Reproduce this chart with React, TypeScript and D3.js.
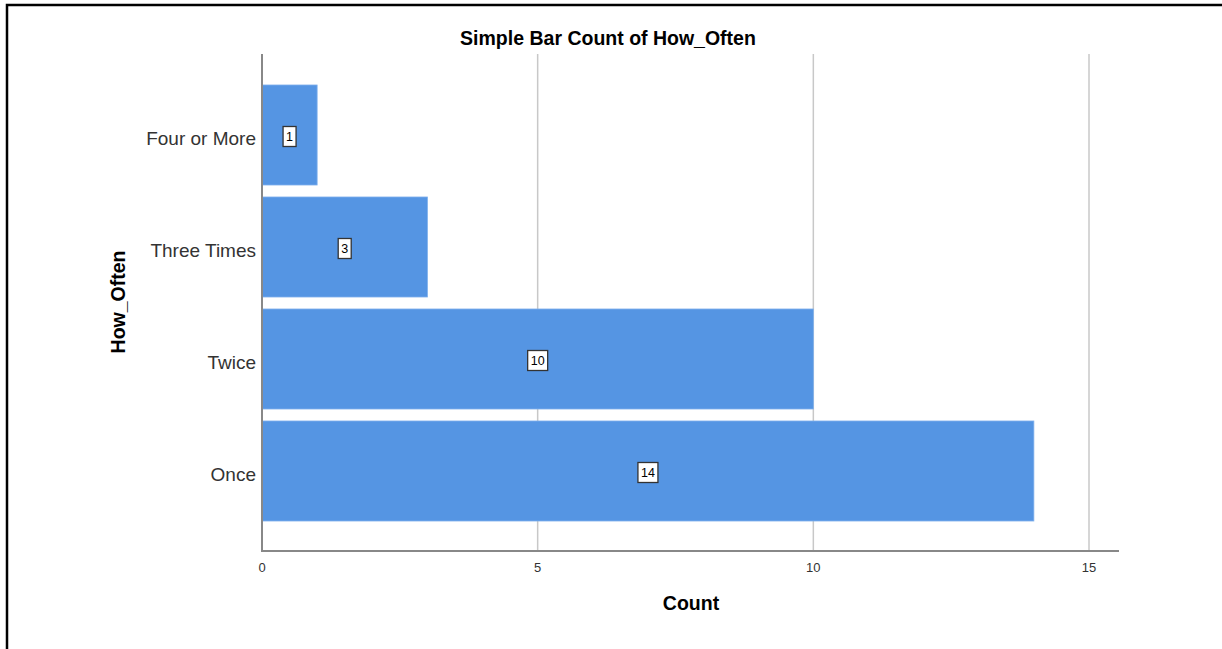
import { useMemo } from 'react'
import * as d3 from 'd3'

const categories = ['Four or More', 'Three Times', 'Twice', 'Once']
const counts = [1, 3, 10, 14]
const xTicks = [0, 5, 10, 15]

const width = 1222
const height = 649
const barColor = '#5595e3'
const font = 'Arial, "Liberation Sans", sans-serif'

export default function App() {
  const x = useMemo(() => d3.scaleLinear().domain([0, 15]).range([262, 1089]), [])
  const y = useMemo(
    () =>
      d3
        .scaleBand<string>()
        .domain(categories)
        .range([79, 527])
        .paddingInner(0.107)
        .paddingOuter(0.0535),
    [],
  )

  const axisTop = 54
  const axisBottom = 551
  const axisRight = 1119

  return (
    <svg
      width={width}
      height={height}
      style={{ position: 'absolute', left: 0, top: 0, background: '#fff' }}
    >
      {/* frame */}
      <rect x={7} y={5} width={width} height={height} fill="none" stroke="#000" strokeWidth={2.5} />

      <text x={608} y={45} textAnchor="middle" fontFamily={font} fontWeight="bold" fontSize={19.5} fill="#000">
        Simple Bar Count of How_Often
      </text>

      {/* grid */}
      {xTicks.slice(1).map((t) => (
        <line key={t} x1={x(t)} x2={x(t)} y1={axisTop} y2={axisBottom} stroke="#c8c8c8" strokeWidth={1.5} />
      ))}

      {/* bars */}
      {categories.map((c, i) => {
        const y0 = y(c) ?? 0
        const bw = y.bandwidth()
        const cx = x(counts[i] / 2)
        const cy = y0 + bw / 2
        const label = String(counts[i])
        const boxW = label.length * 7 + 6
        return (
          <g key={c}>
            <rect x={x(0)} y={y0} width={x(counts[i]) - x(0)} height={bw} fill={barColor} stroke="#7fb0ec" strokeWidth={0.8} />
            <rect x={cx - boxW / 2} y={cy - 8.5} width={boxW} height={20} fill="#fff" stroke="#333" strokeWidth={1.3} />
            <text x={cx} y={cy + 6} textAnchor="middle" fontFamily={font} fontSize={12.5} fill="#000">
              {label}
            </text>
            <text x={256} y={cy + 9.5} textAnchor="end" fontFamily={font} fontSize={19} fill="#333">
              {c}
            </text>
          </g>
        )
      })}

      {/* axes */}
      <line x1={x(0)} x2={x(0)} y1={axisTop} y2={axisBottom} stroke="#888" strokeWidth={2} />
      <line x1={x(0) - 1} x2={axisRight} y1={axisBottom} y2={axisBottom} stroke="#888" strokeWidth={2} />

      {xTicks.map((t) => (
        <text key={t} x={x(t)} y={572} textAnchor="middle" fontFamily={font} fontSize={13} fill="#333">
          {t}
        </text>
      ))}

      <text x={691} y={610} textAnchor="middle" fontFamily={font} fontWeight="bold" fontSize={19.5} fill="#000">
        Count
      </text>
      <text
        transform={`translate(125, 302) rotate(-90)`}
        textAnchor="middle"
        fontFamily={font}
        fontWeight="bold"
        fontSize={19.5}
        fill="#000"
      >
        How_Often
      </text>
    </svg>
  )
}
